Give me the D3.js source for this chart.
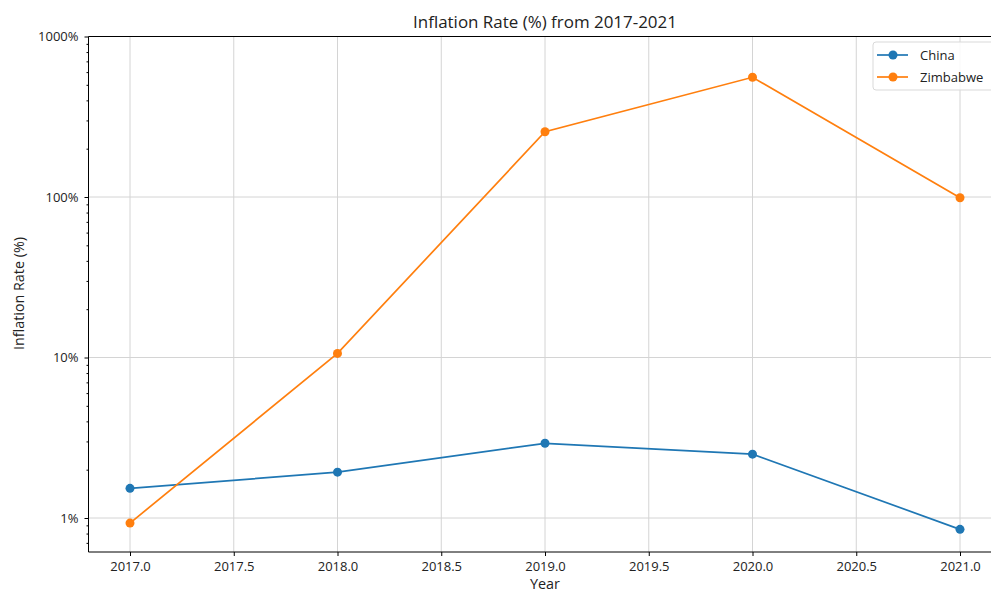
<!DOCTYPE html>
<html><head><meta charset="utf-8">
<script src="https://cdn.jsdelivr.net/npm/d3@7"></script>
<style>html,body{margin:0;background:#fff;overflow:hidden}svg{display:block;font-family:"Open Sans",Lato,sans-serif;overflow:hidden}</style>
</head><body><svg id="c" width="991" height="592"></svg>
<script>
const years = [2017, 2018, 2019, 2020, 2021];
const china = [1.53, 1.93, 2.92, 2.50, 0.85];
const zimbabwe = [0.93, 10.6, 255, 557, 99];
const seriesNames = ["China", "Zimbabwe"];
const colors = ["#1f77b4", "#ff7f0e"];
const xTicks = [2017, 2017.5, 2018, 2018.5, 2019, 2019.5, 2020, 2020.5, 2021];
const yTicks = [1, 10, 100, 1000];

const svg = d3.select("#c");
const FONT = '"Open Sans", Lato, sans-serif';
const L = 88.5, R = 1001.5, T = 36.5, B = 552;
const x = d3.scaleLinear().domain([2016.8, 2021.2]).range([L, R]);
const y = d3.scaleLog().domain([0.614, 1000]).range([B, T]);

function fit(sel, w) {
  const n = sel.node(); const fs = parseFloat(sel.attr("font-size"));
  const len = n.getComputedTextLength(); if (len > 0) sel.attr("font-size", fs * w / len);
}

const g = svg.append("g");
g.selectAll(".gx").data(xTicks).enter().append("line")
  .attr("x1", d => x(d)).attr("x2", d => x(d)).attr("y1", T).attr("y2", B)
  .attr("stroke", "#d4d4d4").attr("stroke-width", 1);
g.selectAll(".gy").data(yTicks).enter().append("line")
  .attr("x1", L).attr("x2", R).attr("y1", d => y(d)).attr("y2", d => y(d))
  .attr("stroke", "#d4d4d4").attr("stroke-width", 1);

const xAxis = d3.axisBottom(x).tickValues(xTicks).tickFormat(d3.format(".1f")).tickSize(4).tickPadding(6);
const xa = svg.append("g").attr("transform", `translate(0,${B})`).call(xAxis).attr("font-family", FONT);
xa.select(".domain").remove();
xa.selectAll("text").attr("font-size", 13).attr("fill", "#222");

const yAxis = d3.axisLeft(y).tickValues(yTicks).tickFormat(d => d + "%").tickSize(4).tickPadding(6);
const ya = svg.append("g").attr("transform", `translate(${L},0)`).call(yAxis).attr("font-family", FONT);
ya.select(".domain").remove();
ya.selectAll("text").attr("font-size", 13).attr("fill", "#222");

const minor = [];
[0.1, 1, 10, 100].forEach(b => { for (let k = 2; k <= 9; k++) { const v = b * k; if (v >= 0.614 && v <= 1000) minor.push(v); } });
const yMinor = d3.axisLeft(y).tickValues(minor).tickFormat("").tickSize(2);
const ym = svg.append("g").attr("transform", `translate(${L},0)`).call(yMinor);
ym.select(".domain").remove();

// frame: right spine lies beyond the picture's edge
svg.append("path").attr("d", `M${R},${T}H${L}V${B}H${R}`)
  .attr("fill", "none").attr("stroke", "#000").attr("stroke-width", 1);

const data = [china, zimbabwe];
const line = d3.line().x((d, i) => x(years[i])).y(d => y(d));
data.forEach((s, k) => {
  svg.append("path").datum(s).attr("d", line).attr("fill", "none")
    .attr("stroke", colors[k]).attr("stroke-width", 1.7);
  svg.selectAll(".m" + k).data(s).enter().append("circle")
    .attr("cx", (d, i) => x(years[i])).attr("cy", d => y(d)).attr("r", 4.5)
    .attr("fill", colors[k]);
});

const title = svg.append("text").attr("x", (L + R) / 2).attr("y", 28).attr("text-anchor", "middle")
  .attr("font-size", 15).attr("fill", "#222").text("Inflation Rate (%) from 2017-2021");
fit(title, 264);
const xl = svg.append("text").attr("x", (L + R) / 2).attr("y", 589).attr("text-anchor", "middle")
  .attr("font-size", 13).attr("fill", "#222").text("Year");
fit(xl, 30);
const yl = svg.append("text").attr("transform", `translate(24,${(237 + 350) / 2}) rotate(-90)`).attr("text-anchor", "middle")
  .attr("font-size", 13).attr("fill", "#222").text("Inflation Rate (%)");
fit(yl, 113);

const lg = svg.append("g");
lg.append("path").attr("d", "M1010,42H876Q873,42 873,45V87Q873,90 876,90H1010")
  .attr("fill", "#fff").attr("fill-opacity", 0.85).attr("stroke", "#d9d9d9");
seriesNames.forEach((n, k) => {
  const yy = 55 + k * 22;
  lg.append("line").attr("x1", 877).attr("x2", 908).attr("y1", yy).attr("y2", yy)
    .attr("stroke", colors[k]).attr("stroke-width", 1.7);
  lg.append("circle").attr("cx", 893).attr("cy", yy).attr("r", 4.5).attr("fill", colors[k]);
  lg.append("text").attr("x", 920).attr("y", yy + 4.5).attr("font-size", 13).attr("fill", "#222").text(n);
});
</script></body></html>
